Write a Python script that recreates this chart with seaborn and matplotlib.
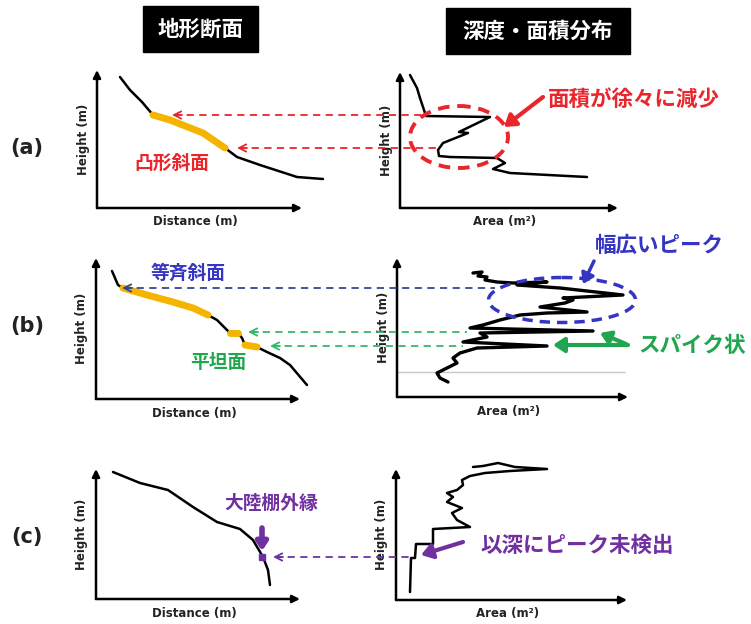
import matplotlib
matplotlib.use("Agg")
import matplotlib.pyplot as plt
from matplotlib.patches import Ellipse, Rectangle
import seaborn as sns

# values, arbitrary units (1 unit ~ 1 px)
# (a) convex slope
a_dist = [23, 33, 45, 56, 73, 106, 128, 140, 163, 200, 226]
a_height = [131, 118, 106, 93, 88, 75, 60, 51, 43, 31, 29]
a_area = [10, 17, 20, 26, 90, 59, 68, 43, 38, 39, 50, 97, 105, 93, 110, 187]
a_area_h = [133, 120, 110, 92, 91, 76, 75, 65, 58, 52, 51, 50, 45, 39, 35, 31]
a_convex = slice(3, 7)

# (b) even slope + flats
b_dist = [16, 22, 27, 51, 77, 97, 112, 121, 131, 134, 142, 146, 149, 161, 171, 184, 194, 211]
b_height = [128, 114, 111, 104, 97, 91, 84, 79, 69, 66, 66, 61, 54, 52, 47, 41, 34, 14]
b_area = [76, 85, 81, 90, 88, 100, 116, 150, 120, 163, 226, 166, 176, 168, 143, 190, 150,
          123, 103, 86, 73, 196, 83, 90, 66, 150, 80, 63, 56, 60, 50, 40, 43, 51]
b_area_h = [124, 125, 121, 120, 117, 115, 114, 115, 112, 109, 102, 99, 97, 94, 90, 85, 84,
            82, 77, 72, 69, 66, 64, 60, 55, 51, 49, 44, 39, 34, 29, 24, 19, 15]
b_even = slice(2, 7)
b_flat1 = slice(9, 11)
b_flat2 = slice(12, 14)
b_base = 25

# (c) shelf edge
c_dist = [17, 44, 72, 97, 121, 144, 157, 167, 172, 174]
c_height = [127, 116, 109, 92, 77, 70, 59, 42, 29, 14]
c_area = [14, 15, 19, 20, 37, 37, 74, 61, 56, 66, 51, 57, 51, 61, 67, 66, 74, 89, 114, 151,
          119, 102, 87, 77]
c_area_h = [8, 42, 42, 56, 56, 71, 73, 80, 87, 92, 98, 103, 107, 110, 115, 120, 124, 127,
            129, 131, 133, 137, 134, 133]
c_edge = 7

W, H = 751, 624
RED = "#e8262c"
BLUE = "#3535c4"
NAVY = "#34478f"
GREEN = "#1fa64e"
GREEN_L = "#35b86a"
PURPLE = "#7030a0"
ORANGE = "#f5b400"
JP = ["Noto Sans CJK JP", "DejaVu Sans"]

sns.set_theme(style="white")
plt.rcParams["font.family"] = ["DejaVu Sans", "Noto Sans CJK JP"]

fig = plt.figure(figsize=(W / 100, H / 100), dpi=100)

origins = {"aL": (97, 208), "aR": (400, 208), "bL": (96, 399),
           "bR": (397, 397), "cL": (96, 599), "cR": (396, 600)}
tips = {"aL": (205, 138), "aR": (218, 136), "bL": (204, 141),
        "bR": (231, 139), "cL": (204, 130), "cR": (231, 131)}
PW, PH = 240, 150


def panel(key, xlabel):
    x0, y0 = origins[key]
    ax = fig.add_axes([x0 / W, (H - y0) / H, PW / W, PH / H])
    ax.set_xlim(0, PW)
    ax.set_ylim(0, PH)
    ax.axis("off")
    tx, ty = tips[key]
    for xy in [(tx, 0), (0, ty)]:
        ax.annotate("", xy=xy, xytext=(0, 0),
                    arrowprops=dict(arrowstyle="-|>", color="black", lw=1.8,
                                    mutation_scale=11, shrinkA=0, shrinkB=0))
    ax.text(tx / 2 - 4, -14, xlabel, ha="center", va="center",
            fontsize=8.5, fontweight="bold", color="#222222")
    ax.text(-14, ty / 2, "Height (m)", ha="center", va="center", rotation=90,
            fontsize=8.5, fontweight="bold", color="#222222")
    return ax


def curve(ax, x, y, lw=1.8, color="black"):
    sns.lineplot(x=x, y=y, ax=ax, sort=False, estimator=None, color=color,
                 lw=lw, solid_capstyle="round")
    for ln in ax.lines:
        ln.set_clip_on(False)


# (a)
ax = panel("aL", "Distance (m)")
curve(ax, a_dist, a_height)
curve(ax, a_dist[a_convex], a_height[a_convex], lw=5, color=ORANGE)
ax = panel("aR", "Area (m²)")
curve(ax, a_area, a_area_h)

# (b)
ax = panel("bL", "Distance (m)")
curve(ax, b_dist, b_height)
for s in [b_even, b_flat1, b_flat2]:
    curve(ax, b_dist[s], b_height[s], lw=5, color=ORANGE)
ax = panel("bR", "Area (m²)")
ax.plot([0, 228], [b_base, b_base], color="#c8c8c8", lw=1)
curve(ax, b_area, b_area_h, lw=2.4)

# (c)
ax = panel("cL", "Distance (m)")
curve(ax, c_dist, c_height)
ax.plot(c_dist[c_edge] - 1, c_height[c_edge], marker="s", ms=4, color=PURPLE,
        clip_on=False)
ax = panel("cR", "Area (m²)")
curve(ax, c_area, c_area_h)

# overlay in pixel coordinates for the annotations
ov = fig.add_axes([0, 0, 1, 1])
ov.set_xlim(0, W)
ov.set_ylim(H, 0)
ov.axis("off")
ov.patch.set_alpha(0)


def dashed_arrow(y, head, tail, color, lw=1.3):
    ov.plot([head + 2, tail], [y, y], color=color, lw=lw, ls=(0, (4, 3)))
    ov.annotate("", xy=(head, y), xytext=(head + 10, y),
                arrowprops=dict(arrowstyle="->", color=color, lw=lw,
                                mutation_scale=13, shrinkA=0, shrinkB=0))


def thick_arrow(tail, head, color, lw=3, ms=11):
    ov.annotate("", xy=head, xytext=tail,
                arrowprops=dict(arrowstyle="-|>,head_length=0.6,head_width=0.4",
                                color=color, lw=lw, mutation_scale=ms,
                                shrinkA=0, shrinkB=0))


def jtext(x, y, s, color, size):
    ov.text(x, y, s, ha="center", va="center", color=color, fontsize=size,
            fontweight="bold", family=JP)


# titles
for (x0, y0, x1, y1), s in [((143, 6, 258, 52), "地形断面"),
                            ((446, 8, 630, 54), "深度・面積分布")]:
    ov.add_patch(Rectangle((x0, y0), x1 - x0, y1 - y0, color="black"))
    jtext((x0 + x1) / 2, (y0 + y1) / 2, s, "white", 15.5)

for y, s in [(148, "(a)"), (326, "(b)"), (537, "(c)")]:
    ov.text(27, y, s, ha="center", va="center", fontsize=15, fontweight="bold",
            color="#222222")

# (a) annotations
dashed_arrow(115, 172, 425, RED)
dashed_arrow(148, 237, 438, RED)
ov.add_patch(Ellipse((459, 137), 98, 62, fill=False, ec=RED, lw=2.8, ls=(0, (3, 2))))
thick_arrow((543, 97), (504, 127), RED)
jtext(634, 99, "面積が徐々に減少", RED, 15.5)
jtext(172, 163, "凸形斜面", RED, 13.5)

# (b) annotations
dashed_arrow(288, 122, 495, NAVY)
dashed_arrow(332, 248, 467, GREEN_L)
dashed_arrow(346, 270, 463, GREEN_L)
jtext(188, 273, "等斉斜面", BLUE, 13.5)
jtext(218, 362, "平坦面", GREEN, 13.5)
ov.add_patch(Ellipse((562, 300), 147, 45, fill=False, ec=BLUE, lw=2.5, ls=(0, (3, 2))))
thick_arrow((594, 261), (583, 284), BLUE, lw=2.5, ms=10)
jtext(659, 245, "幅広いピーク", BLUE, 15.5)
thick_arrow((628, 345), (553, 345), GREEN)
thick_arrow((626, 344), (600, 333), GREEN, ms=10)
jtext(692, 345, "スパイク状", GREEN, 15.5)

# (c) annotations
dashed_arrow(557, 273, 412, PURPLE)
thick_arrow((262, 528), (262, 551), PURPLE, lw=4, ms=8)
jtext(271, 503, "大陸棚外縁", PURPLE, 13.5)
thick_arrow((463, 542), (421, 555), PURPLE)
jtext(577, 545, "以深にピーク未検出", PURPLE, 15.5)

fig.savefig("out.png", dpi=100, facecolor="white")
